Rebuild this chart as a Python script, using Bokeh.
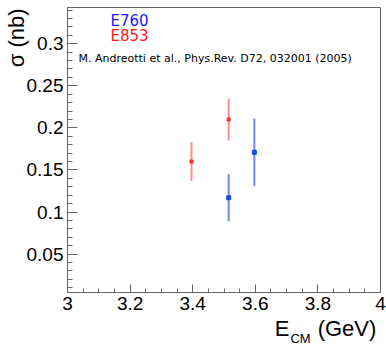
from bokeh.plotting import figure
from bokeh.models import (FixedTicker, NumeralTickFormatter, Label, ColumnDataSource,
                          LinearAxis, CustomJSTickFormatter)
from bokeh.embed import file_html
from bokeh.resources import INLINE

# Data
e760_x = [3.515, 3.597]
e760_y = [0.117, 0.171]
e760_err = [0.028, 0.040]

e853_x = [3.396, 3.515]
e853_y = [0.160, 0.210]
e853_err = [0.023, 0.025]

x_ticks = [3.0, 3.2, 3.4, 3.6, 3.8, 4.0]
y_ticks = [0.05, 0.1, 0.15, 0.2, 0.25, 0.3]
x_range = (3.0, 4.0)
y_range = (0.0044, 0.343)

x_title = ["E", "CM", "(GeV)"]
y_title = "σ (nb)"

X0, X1 = 67, 380
Y0, Y1 = 7, 294


def dx(sx):
    return x_range[0] + (sx - X0) / (X1 - X0) * (x_range[1] - x_range[0])


def dy(sy):
    return y_range[1] - (sy - Y0) / (Y1 - Y0) * (y_range[1] - y_range[0])


p = figure(width=386, height=348, output_backend="svg", toolbar_location=None,
           x_range=x_range, y_range=y_range,
           min_border_left=X0, min_border_right=386 - X1,
           min_border_top=Y0, min_border_bottom=348 - Y1)
p.background_fill_color = "white"
p.border_fill_color = "white"
p.outline_line_color = "#666666"
p.outline_line_width = 1
p.xgrid.visible = False
p.ygrid.visible = False

minor_x = [round(3.0 + 0.05 * i, 3) for i in range(21)]
minor_y = [round(0.01 * i, 3) for i in range(1, 35)]
p.xaxis.ticker = FixedTicker(ticks=x_ticks, minor_ticks=minor_x)
p.yaxis.ticker = FixedTicker(ticks=y_ticks, minor_ticks=minor_y)
p.xaxis.formatter = NumeralTickFormatter(format="0.[0]")
p.yaxis.formatter = NumeralTickFormatter(format="0.[00]")

for ax in (p.xaxis[0], p.yaxis[0]):
    ax.axis_line_color = "#666666"
    ax.major_tick_line_color = "#666666"
    ax.minor_tick_line_color = "#666666"
    ax.major_tick_out = 0
    ax.minor_tick_out = 0
    ax.major_label_text_font = "Liberation Sans"
    ax.major_label_text_color = "black"
p.yaxis.major_tick_in = 10
p.yaxis.minor_tick_in = 5
p.xaxis.major_tick_in = 8
p.xaxis.minor_tick_in = 4
p.yaxis.major_label_text_font_size = "19px"
p.xaxis.major_label_text_font_size = "19px"
p.yaxis.major_label_standoff = 4
p.xaxis.major_label_standoff = 4


def title_axis(ticks, labels, size, standoff, orientation="horizontal"):
    ax = LinearAxis(ticker=FixedTicker(ticks=ticks, minor_ticks=[]),
                    formatter=CustomJSTickFormatter(args=dict(labels=labels),
                                                    code="return labels[index];"))
    ax.axis_line_color = None
    ax.major_tick_line_color = None
    ax.minor_tick_line_color = None
    ax.major_tick_in = 0
    ax.major_tick_out = 0
    ax.major_label_standoff = standoff
    ax.major_label_text_font = "Liberation Sans"
    ax.major_label_text_font_size = size
    ax.major_label_text_color = "black"
    ax.major_label_orientation = orientation
    return ax


# x-axis title: "E" + subscript "CM" + "(GeV)"
p.add_layout(title_axis([dx(281.5), dx(346.5)], [x_title[0], x_title[2]], "22px", 3), "below")
p.add_layout(title_axis([dx(300)], [x_title[1]], "13px", -13), "below")
# y-axis title
p.add_layout(title_axis([dy(37.5)], [y_title], "22px", -6, "parallel"), "left")

# Error bars
src760 = ColumnDataSource(dict(x=e760_x, y=e760_y,
                               lo=[y - e for y, e in zip(e760_y, e760_err)],
                               hi=[y + e for y, e in zip(e760_y, e760_err)]))
src853 = ColumnDataSource(dict(x=e853_x, y=e853_y,
                               lo=[y - e for y, e in zip(e853_y, e853_err)],
                               hi=[y + e for y, e in zip(e853_y, e853_err)]))

p.segment(x0="x", y0="lo", x1="x", y1="hi", source=src853,
          line_color="#ff3030", line_alpha=0.55, line_width=2)
p.segment(x0="x", y0="lo", x1="x", y1="hi", source=src760,
          line_color="#3358d0", line_alpha=0.7, line_width=2)
p.scatter(x="x", y="y", source=src853, marker="square", size=3,
          fill_color="#ff2020", line_color="#ff2020", alpha=0.9)
p.scatter(x="x", y="y", source=src760, marker="square", size=4,
          fill_color="#1040e0", line_color="#1040e0", alpha=0.9)

# Legend-like texts
p.add_layout(Label(x=dx(110), y=dy(21), text="E760", text_color="#1a1aff",
                   text_font="DejaVu Sans", text_font_size="15px",
                   text_baseline="alphabetic"))
p.add_layout(Label(x=dx(110), y=dy(36), text="E853", text_color="#ff1a1a",
                   text_font="DejaVu Sans", text_font_size="15px",
                   text_baseline="alphabetic"))
p.add_layout(Label(x=dx(78), y=dy(58),
                   text="M. Andreotti et al., Phys.Rev. D72, 032001 (2005)",
                   text_color="black", text_font="DejaVu Sans",
                   text_font_size="11px", text_baseline="alphabetic"))

open("out.html", "w").write(file_html(p, INLINE))
